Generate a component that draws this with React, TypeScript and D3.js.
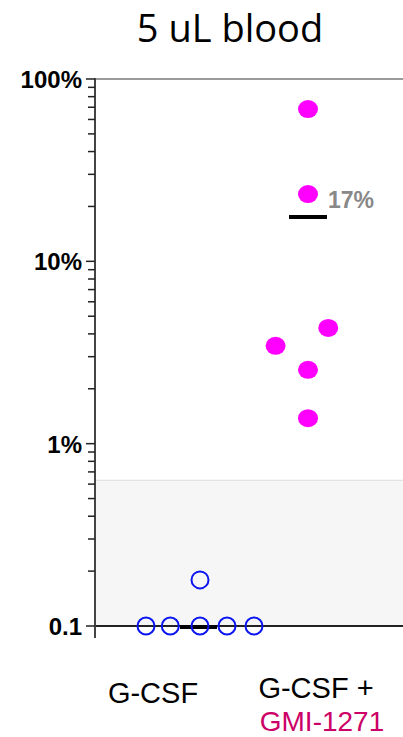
import React from "react";
import * as d3 from "d3";

const title = "5 uL blood";
const groups = ["G-CSF", "GMI-1271"];
const gcsfValues = [0.1, 0.1, 0.1, 0.1, 0.1, 0.179];
const gcsfJitter = [-2, -1.1, 0, 1, 2, 0];
const gmiValues = [68.4, 23.4, 4.31, 3.44, 2.54, 1.38];
const gmiJitter = [0, 0, 0.75, -1.2, 0, 0];
const medians = [0.1, 17.5];
const medianLabel = "17%";
const yTicks = [100, 10, 1, 0.1];
const yTickLabels = ["100%", "10%", "1%", "0.1"];
const lodValue = 0.63;

const W = 403;
const H = 737;

export default function App() {
  const y = d3.scaleLog().domain([0.1, 100]).range([626, 79]);
  const x = d3.scalePoint<string>().domain(groups).range([200, 308]);
  const jit = d3.scaleLinear().domain([-1, 1]).range([-27, 27]);

  const minor: number[] = [];
  [0.1, 1, 10].forEach((d) => {
    for (let k = 2; k <= 9; k++) minor.push(d * k);
  });

  const axisX = 95;
  const sans = "'Liberation Sans', Arial, sans-serif";

  return (
    <svg width={W} height={H} style={{ position: "absolute", left: 0, top: 0, background: "#fff" }}>
      <text x={230} y={42} textAnchor="middle" fontFamily="'Open Sans', 'Noto Sans', sans-serif" fontSize={38} fill="#000">
        {title}
      </text>
      {/* LOD shaded region */}
      <rect x={axisX} y={y(lodValue)} width={W - axisX} height={y(0.1) - y(lodValue)} fill="#f6f6f6" />
      <line x1={axisX} x2={W} y1={y(lodValue)} y2={y(lodValue)} stroke="#dcdcdc" strokeWidth={1} />
      {/* top border */}
      <line x1={axisX} x2={W} y1={y(100)} y2={y(100)} stroke="#9a9a9a" strokeWidth={2} />
      {/* bottom axis */}
      <line x1={axisX} x2={W} y1={y(0.1)} y2={y(0.1)} stroke="#222" strokeWidth={2} />
      {/* left axis */}
      <line x1={axisX} x2={axisX} y1={y(100) - 1} y2={y(0.1) + 12} stroke="#444" strokeWidth={2} />
      {yTicks.map((t) => (
        <line key={"M" + t} x1={axisX - 9} x2={axisX} y1={y(t)} y2={y(t)} stroke="#222" strokeWidth={1.5} />
      ))}
      {minor.map((t) => (
        <line key={"m" + t} x1={axisX - 7} x2={axisX} y1={y(t)} y2={y(t)} stroke="#222" strokeWidth={1.5} />
      ))}
      {yTicks.map((t, i) => (
        <text key={"l" + t} x={82} y={y(t) + 9} textAnchor="end" fontFamily={sans} fontWeight="bold" fontSize={24} fill="#000">
          {yTickLabels[i]}
        </text>
      ))}
      {/* medians */}
      <line x1={x(groups[0])! - 20} x2={x(groups[0])! + 17} y1={y(medians[0]) + 1} y2={y(medians[0]) + 1} stroke="#000" strokeWidth={4} />
      <line x1={x(groups[1])! - 19} x2={x(groups[1])! + 19} y1={y(medians[1])} y2={y(medians[1])} stroke="#000" strokeWidth={4} />
      <text x={328} y={208} fontFamily={sans} fontWeight="bold" fontSize={23} fill="#888">
        {medianLabel}
      </text>
      {/* G-CSF points */}
      {gcsfValues.map((v, i) => (
        <circle key={"g" + i} cx={x(groups[0])! + jit(gcsfJitter[i])} cy={y(v)} r={8.5} fill="none" stroke="#0a14f0" strokeWidth={2} />
      ))}
      {/* GMI points */}
      {gmiValues.map((v, i) => (
        <ellipse key={"p" + i} cx={x(groups[1])! + jit(gmiJitter[i])} cy={y(v)} rx={10} ry={9} fill="#ff00ff" />
      ))}
      {/* category labels */}
      <text x={153} y={703} textAnchor="middle" fontFamily={sans} fontSize={29} fill="#000">
        G-CSF
      </text>
      <text x={316} y={698} textAnchor="middle" fontFamily={sans} fontSize={29} fill="#000">
        G-CSF +
      </text>
      <text x={322} y={731} textAnchor="middle" fontFamily={sans} fontSize={28} fill="#cc0066">
        GMI-1271
      </text>
    </svg>
  );
}
